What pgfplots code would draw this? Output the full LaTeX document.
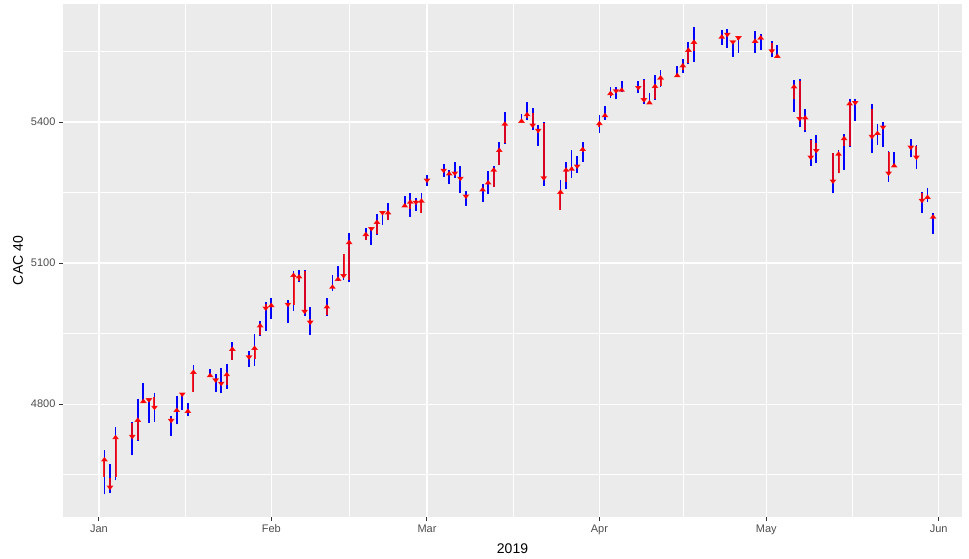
\documentclass[border=0pt]{standalone}
\usepackage{fontspec}
\setmainfont{Liberation Sans}
\usepackage{pgfplots}
\usepackage{pgfplotstable}
\pgfplotsset{compat=1.18}
\usetikzlibrary{arrows.meta}
\definecolor{panelbg}{HTML}{EBEBEB}
\definecolor{ticktext}{HTML}{4D4D4D}
\definecolor{tickcol}{HTML}{333333}

\pgfplotstableread{
d o h l c
1 4645 4702 4608 4688
2 4642 4672 4610 4617
3 4645 4752 4638 4735
6 4759 4761 4691 4725
7 4723 4812 4722 4772
8 4805 4845 4803 4812
9 4807 4808 4760 4803
10 4815 4823 4762 4787
13 4770 4774 4732 4759
14 4785 4818 4757 4793
15 4818 4819 4787 4815
16 4787 4803 4774 4791
17 4826 4883 4826 4874
20 4864 4874 4862 4867
21 4851 4865 4826 4845
22 4842 4876 4823 4838
23 4840 4885 4833 4869
24 4894 4932 4894 4923
27 4904 4913 4879 4894
28 4897 4950 4881 4925
29 4947 4977 4945 4973
30 5014 5018 4956 4998
31 5007 5025 4982 5016
34 5014 5021 4972 5006
35 5011 5084 4999 5080
36 5062 5085 5059 5077
37 5084 5085 4987 4991
38 4981 5007 4947 4968
41 4989 5025 4987 5013
42 5051 5074 5041 5055
43 5069 5094 5062 5072
44 5119 5119 5064 5067
45 5064 5165 5060 5150
48 5149 5174 5149 5167
49 5170 5177 5138 5167
50 5162 5204 5160 5193
51 5206 5207 5182 5201
52 5191 5228 5191 5213
55 5223 5243 5220 5228
56 5214 5248 5198 5236
57 5234 5238 5211 5223
58 5206 5248 5206 5238
59 5275 5287 5264 5270
62 5298 5311 5284 5291
63 5291 5299 5268 5296
64 5291 5315 5282 5285
65 5282 5306 5250 5274
66 5241 5253 5221 5236
69 5255 5268 5230 5262
70 5268 5296 5246 5277
71 5262 5306 5262 5304
72 5308 5358 5308 5346
73 5355 5422 5353 5402
76 5404 5417 5403 5408
77 5408 5443 5404 5422
78 5419 5429 5383 5387
79 5377 5394 5349 5376
80 5397 5399 5264 5275
83 5213 5277 5213 5257
84 5273 5316 5257 5304
85 5304 5340 5280 5306
86 5304 5328 5292 5300
87 5337 5357 5316 5348
90 5390 5415 5377 5403
91 5415 5434 5404 5420
92 5457 5475 5452 5467
93 5464 5474 5448 5460
94 5470 5487 5464 5474
97 5472 5487 5462 5467
98 5489 5491 5438 5441
99 5443 5461 5441 5447
100 5449 5500 5447 5482
101 5477 5511 5475 5500
104 5502 5519 5498 5505
105 5511 5533 5504 5526
106 5525 5570 5523 5559
107 5550 5602 5528 5576
112 5583 5596 5564 5587
113 5585 5597 5557 5580
114 5569 5571 5539 5564
115 5574 5576 5547 5573
118 5574 5594 5547 5578
119 5578 5587 5553 5585
121 5568 5573 5538 5545
122 5543 5564 5536 5546
125 5450 5489 5422 5481
126 5488 5491 5389 5401
127 5383 5427 5378 5415
128 5362 5364 5307 5319
129 5355 5372 5312 5333
132 5334 5335 5248 5268
133 5291 5340 5291 5338
134 5349 5374 5298 5371
135 5349 5448 5347 5445
136 5440 5450 5403 5435
139 5427 5438 5335 5363
140 5376 5396 5351 5382
141 5387 5399 5346 5383
142 5337 5339 5273 5285
143 5308 5337 5304 5313
146 5346 5364 5325 5340
147 5349 5351 5301 5319
148 5250 5252 5206 5227
149 5241 5259 5230 5246
150 5199 5206 5162 5204
}\cac

\begin{document}
\begin{tikzpicture}
\useasboundingbox (0,0) rectangle (969pt,558pt);
\begin{axis}[
  at={(63pt,41pt)}, anchor=south west,
  width=899pt, height=513pt, scale only axis,
  xmin=-6.45, xmax=155.2, ymin=4560, ymax=5651,
  axis background/.style={fill=panelbg},
  axis line style={draw=none},
  xtick={0,31,59,90,120,151},
  xticklabels={Jan,Feb,Mar,Apr,May,Jun},
  ytick={4800,5100,5400},
  minor xtick={15.5,45,74.5,105,135.5},
  minor ytick={4650,4950,5250,5550},
  grid=both,
  major grid style={white, line width=1.3pt},
  minor grid style={white, line width=0.6pt},
  tick align=outside, tick pos=left,
  major tick length=4pt, minor tick length=0pt,
  every tick/.style={tickcol, line width=1pt},
  tick label style={font=\fontsize{11}{13}\selectfont, text=ticktext},
  /pgf/number format/assume math mode=true,
  /pgf/number format/1000 sep={},
  scaled ticks=false,
  xlabel={2019}, ylabel={CAC 40},
  xlabel style={at={(axis description cs:0.5,-0.0702)}, anchor=base, font=\fontsize{14}{16}\selectfont},
  ylabel style={at={(axis description cs:-0.0445,0.5)}, anchor=base, font=\fontsize{14}{16}\selectfont},
  clip=false,
]
\addplot[blue, line width=1.8pt, no markers, quiver={u=0, v=\thisrow{h}-\thisrow{l}}, -] table[x=d, y=l] {\cac};
\addplot[red, draw opacity=0.85, fill opacity=1, line width=2pt, no markers, quiver={u=0, v=\thisrow{c}-\thisrow{o}}, -{Triangle[length=4.5pt,width=6.5pt]}] table[x=d, y=o] {\cac};
\end{axis}
\end{tikzpicture}
\end{document}
